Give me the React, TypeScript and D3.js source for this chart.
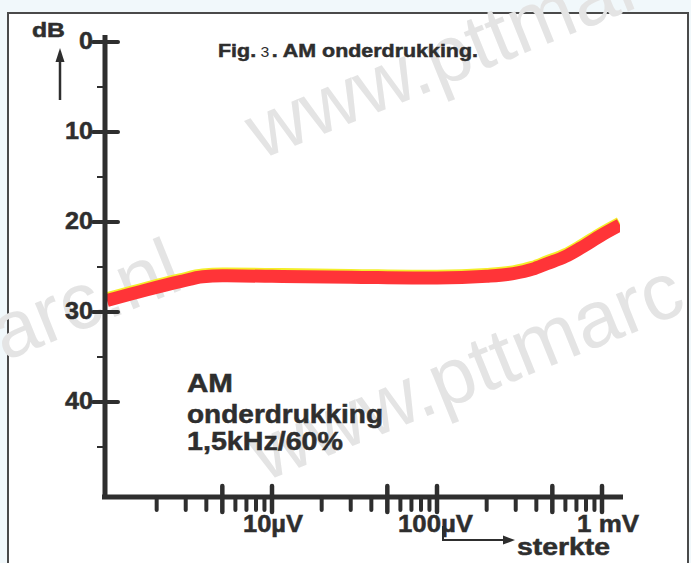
import React from "react";
import * as d3 from "d3";

const W = 691;
const H = 563;

// Data
const signalUV = [1, 1.75, 2.77, 3.8, 5, 10, 30, 100, 200, 290, 380, 463, 600, 735, 1000, 1285];
const suppressionDB = [28.7, 27.5, 26.6, 26.05, 25.95, 26.0, 26.1, 26.2, 26.0, 25.7, 25.2, 24.6, 23.8, 22.9, 21.4, 20.3];

const yTickValues = [0, 10, 20, 30, 40];
const yTickLabels = ["0", "10", "20", "30", "40"];
const yMinorTickValues = [5, 15, 25, 35, 45];
const xMajorTickValues = [5, 10, 50, 100, 500, 1000];
const xMinorTickValues = [2, 3, 4, 6, 7, 8, 9, 20, 30, 40, 60, 70, 80, 90, 200, 300, 400, 600, 700, 800, 900];
const xLabelValues = [10, 100, 1000];
const xLabels = ["10µV", "100µV", "1 mV"];

const titleParts = ["Fig.", "3", ". AM onderdrukking."];
const noteLines = ["AM", "onderdrukking", "1,5kHz/60%"];
const yAxisTitle = "dB";
const xAxisTitle = "sterkte";
const watermark = "www.pttmarc.nl";

const FONT = "'Liberation Sans', Arial, Helvetica, sans-serif";
const INK = "#2e2e2e";

export default function App() {
  const x = d3.scaleLog().domain([1, 1000]).range([107, 602]);
  const y = d3.scaleLinear().domain([0, 40]).range([42, 402]);
  const axisX = 105;
  const axisY = 497;

  const pts: [number, number][] = signalUV.map((v, i) => [v, suppressionDB[i]]);
  const line = d3
    .line<[number, number]>()
    .x((d) => x(d[0]))
    .y((d) => y(d[1]))
    .curve(d3.curveMonotoneX);
  const path = line(pts) || "";

  const heavy = { stroke: INK, strokeWidth: 0.5 };
  // label start offsets (relative to tick) and widths
  const labelDx = [-29, -39, -25];
  const labelLen = [60, 75, 62];

  return (
    <svg
      width={W}
      height={H}
      style={{ position: "absolute", left: 0, top: 0, display: "block" }}
      fontFamily={FONT}
    >
      <defs>
        <clipPath id="plotClip">
          <rect x={x(1)} y={0} width={x(1285) - x(1)} height={H} />
        </clipPath>
      </defs>
      <rect x={0} y={0} width={W} height={H} fill="#f1f8fb" />
      <rect x={8} y={13} width={680} height={H} fill="#ffffff" stroke="#4a4a4a" strokeWidth={2} />

      {/* watermarks */}
      <g fill="#e4e4e4" fontSize={80} fontFamily={FONT}>
        <text x={0} y={0} transform="translate(260,160) rotate(-22)">{watermark}</text>
        <text x={0} y={0} transform="translate(264,482) rotate(-22)">{watermark}</text>
        <text x={0} y={0} textAnchor="end" transform="translate(186,288) rotate(-22)">{watermark}</text>
      </g>

      {/* curve */}
      <g clipPath="url(#plotClip)">
        <path d={path} fill="none" stroke="#f4ee2a" strokeWidth={13} transform="translate(0,-1.5)" />
        <path d={path} fill="none" stroke="#ff3438" strokeWidth={13} transform="translate(0,0.3)" />
      </g>

      {/* y axis */}
      <line x1={axisX} x2={axisX} y1={35} y2={axisY + 2} stroke={INK} strokeWidth={5} />
      {yTickValues.map((v, i) => (
        <g key={"yt" + v}>
          <line x1={93} x2={118} y1={y(v)} y2={y(v)} stroke={INK} strokeWidth={4} strokeLinecap="round" />
          <text
            x={93}
            y={y(v) + 7}
            textAnchor="end"
            fontSize={24}
            fontWeight="bold"
            fill={INK}
            {...heavy}
            textLength={yTickLabels[i].length * 14}
            lengthAdjust="spacingAndGlyphs"
          >
            {yTickLabels[i]}
          </text>
        </g>
      ))}
      {yMinorTickValues.map((v) => (
        <line key={"ym" + v} x1={97} x2={axisX} y1={y(v)} y2={y(v)} stroke={INK} strokeWidth={2} />
      ))}

      {/* x axis */}
      <line x1={axisX - 3} x2={623} y1={axisY} y2={axisY} stroke={INK} strokeWidth={5} />
      {xMinorTickValues.map((v) => (
        <line key={"xm" + v} x1={x(v)} x2={x(v)} y1={axisY} y2={axisY + 13} stroke={INK} strokeWidth={4} strokeLinecap="round" />
      ))}
      {xMajorTickValues.map((v) => (
        <line key={"xM" + v} x1={x(v)} x2={x(v)} y1={axisY - 11} y2={axisY + 15} stroke={INK} strokeWidth={4.5} strokeLinecap="round" />
      ))}
      {xLabelValues.map((v, i) => (
        <text
          key={"xl" + v}
          x={x(v) + labelDx[i]}
          y={532}
          fontWeight="bold"
          fill={INK}
          fontSize={24}
          {...heavy}
          textLength={labelLen[i]}
          lengthAdjust="spacingAndGlyphs"
        >
          {xLabels[i]}
        </text>
      ))}

      {/* x axis title with arrow */}
      <polyline points="443,526 443,540 506,540" fill="none" stroke={INK} strokeWidth={2} />
      <path d="M503,535.5 L515,540 L503,544.5 Z" fill={INK} />
      <text x={517} y={555} fontSize={23} fontWeight="bold" fill={INK} {...heavy} textLength={93} lengthAdjust="spacingAndGlyphs">
        {xAxisTitle}
      </text>

      {/* y axis title with arrow */}
      <text x={32} y={37} fontSize={20} fontWeight="bold" fill={INK} {...heavy} textLength={33} lengthAdjust="spacingAndGlyphs">
        {yAxisTitle}
      </text>
      <line x1={60} x2={60} y1={100} y2={58} stroke={INK} strokeWidth={2.5} />
      <path d="M55.5,62 L60,48 L64.5,62 Z" fill={INK} />

      {/* title */}
      <text x={218} y={57} fontSize={19} fill={INK} textLength={260} lengthAdjust="spacingAndGlyphs">
        <tspan fontWeight="bold" {...heavy}>{titleParts[0]}</tspan>
        <tspan fontSize={14} dx={4}>{titleParts[1]}</tspan>
        <tspan fontWeight="bold" dx={2} {...heavy}>{titleParts[2]}</tspan>
      </text>

      {/* annotation */}
      <g fontWeight="bold" fill={INK} fontSize={25} {...heavy}>
        <text x={187} y={392} textLength={46} lengthAdjust="spacingAndGlyphs">{noteLines[0]}</text>
        <text x={187} y={423} textLength={196} lengthAdjust="spacingAndGlyphs">{noteLines[1]}</text>
        <text x={187} y={450} textLength={156} lengthAdjust="spacingAndGlyphs">{noteLines[2]}</text>
      </g>
    </svg>
  );
}
